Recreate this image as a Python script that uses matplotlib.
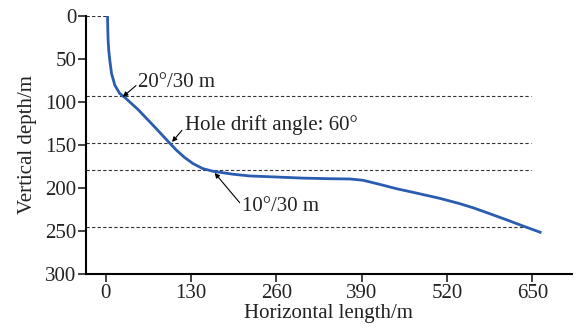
import matplotlib.pyplot as plt

plt.rcParams['font.family'] = ['Liberation Serif', 'DejaVu Serif']

# borehole trajectory
hole_x = [2.6, 3, 3.5, 4.5, 6, 8.7, 13.7, 21, 29, 49, 75, 97.6, 107.6, 120, 133,
          148, 163.6, 194, 219.5, 262.7, 300, 341.5, 372, 392, 417.7, 443, 470,
          509, 538.6, 560, 585, 611, 636, 662]
hole_y = [0, 15, 28, 40, 51, 66.8, 80.4, 90, 94.8, 108.7, 129.5, 148, 156, 164.5,
          171.7, 177.5, 180.6, 184, 186, 187.3, 188.5, 189.2, 189.5, 191, 195.8,
          200.8, 205.3, 212, 218, 223, 229.8, 237, 244.2, 251.4]

# dashed reference depths and where they stop
ref_depths = [93.5, 148, 178.5, 245.6]
ref_ends = [648, 648, 648, 640]

xticks = [0, 130, 260, 390, 520, 650]
yticks = [0, 50, 100, 150, 200, 250, 300]

labels = ['20°/30 m', 'Hole drift angle: 60°', '10°/30 m']
label_pos = [(49, 77), (120, 127), (207, 222)]
arrow_tail = [(46, 81), (116, 133), (204, 217)]
arrow_tip = [(26, 94), (101, 146.5), (166, 182.5)]

fig = plt.figure(figsize=(5.78, 3.31), dpi=100)
ax = fig.add_axes([0.149, 0.172, 0.840, 0.780])

ax.plot([-30, 2.6], [0, 0], ls=(0, (3, 2)), color='#333333', lw=0.8)
for d, e in zip(ref_depths, ref_ends):
    ax.plot([-30, e], [d, d], ls=(0, (3, 2)), color='#333333', lw=0.8)

ax.plot(hole_x, hole_y, color='#2a5cb0', lw=2.0)

for t, p in zip(labels, label_pos):
    ax.text(p[0], p[1], t, fontsize=15, color='#222222', va='center', ha='left')
for a, b in zip(arrow_tail, arrow_tip):
    ax.annotate('', xy=b, xytext=a,
                arrowprops=dict(arrowstyle='-|>', lw=0.8, color='black',
                                mutation_scale=7, shrinkA=0, shrinkB=0))

ax.set_xlim(-30, 710)
ax.set_ylim(300, 0)
ax.set_xticks(xticks)
ax.set_yticks(yticks)
ax.tick_params(labelsize=15, length=6, width=1.2, pad=1, colors='#222222')
ax.spines['top'].set_visible(False)
ax.spines['right'].set_visible(False)
ax.spines['left'].set_linewidth(1.5)
ax.spines['bottom'].set_linewidth(1.5)
ax.set_xlabel('Horizontal length/m', fontsize=15, color='#222222', labelpad=1)
ax.set_ylabel('Vertical depth/m', fontsize=15, color='#222222', labelpad=6)

fig.savefig('out.png', dpi=100)
